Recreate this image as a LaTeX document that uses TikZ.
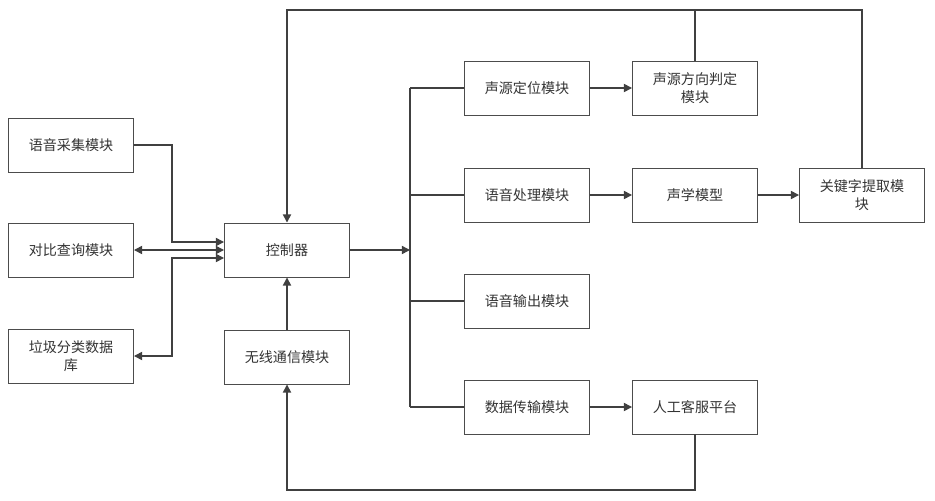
\documentclass[tikz,border=0pt]{standalone}
\usepackage{fontspec}
\newfontfamily\cjk{Noto Sans CJK SC}
\usetikzlibrary{arrows.meta}
\begin{document}
\begin{tikzpicture}[x=0.03cm,y=-0.03cm,
 box/.style={draw=black!70,line width=0.8pt,minimum width=3.75cm,minimum height=1.62cm,align=center,font=\cjk\fontsize{12}{15}\selectfont,text=black!80},
 ln/.style={draw=black!75,line width=1.3pt},
 ar/.style={ln,-{Triangle[length=7pt,width=7pt]}},
 dar/.style={ln,{Triangle[length=7pt,width=7pt]}-{Triangle[length=7pt,width=7pt]}}]
\useasboundingbox (0,0) rectangle (935,500);
\node[box] (cj) at (71,145) {语音采集模块};
\node[box] (db) at (71,250) {对比查询模块};
\node[box] (lj) at (71,356) {垃圾分类数据\\库};
\node[box] (kz) at (287,250) {控制器};
\node[box] (wx) at (287,357) {无线通信模块};
\node[box] (dw) at (527,88) {声源定位模块};
\node[box] (fx) at (695,88) {声源方向判定\\模块};
\node[box] (cl) at (527,195) {语音处理模块};
\node[box] (sx) at (695,195) {声学模型};
\node[box] (gj) at (862,195) {关键字提取模\\块};
\node[box] (sc) at (527,301) {语音输出模块};
\node[box] (cs) at (527,407) {数据传输模块};
\node[box] (rg) at (695,407) {人工客服平台};
\coordinate (b1) at (410,88);
\coordinate (b2) at (410,407);
\coordinate (bm) at (410,250);
% left
\draw[ar] (cj.east) -- (172,145) -- (172,242) -- (kz.west|-0,242);
\draw[dar] (db.east) -- (kz.west);
\draw[dar] (lj.east) -- (172,356) -- (172,258) -- (kz.west|-0,258);
% right bus
\draw[ar] (kz.east) -- (bm);
\draw[ln] (b1) -- (b2);
\draw[ln] (b1) -- (dw.west);
\draw[ln] (cl.west-|b1) -- (cl.west);
\draw[ln] (sc.west-|b1) -- (sc.west);
\draw[ln] (b2) -- (cs.west);
\draw[ar] (dw) -- (fx);
\draw[ar] (cl) -- (sx);
\draw[ar] (sx) -- (gj);
\draw[ar] (cs) -- (rg);
% feedback
\draw[ar] (gj.north) -- (862,10) -- (287,10) -- (kz.north);
\draw[ln] (fx.north) -- (695,10);
\draw[ar] (rg.south) -- (695,490) -- (287,490) -- (wx.south);
\draw[ar] (wx) -- (kz);
\end{tikzpicture}
\end{document}
